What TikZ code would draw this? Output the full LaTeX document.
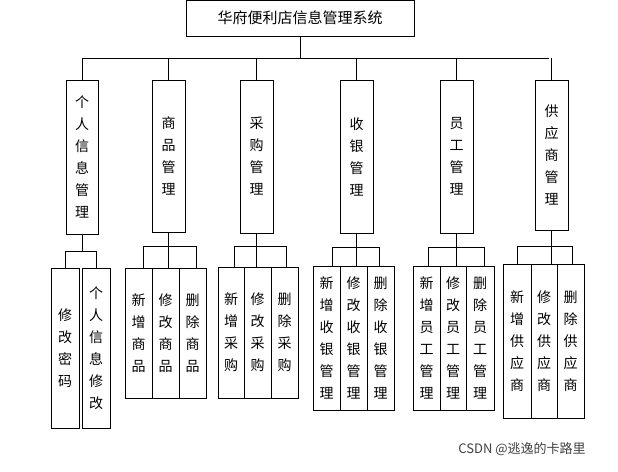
\documentclass[tikz,border=0pt]{standalone}
\usepackage{fontspec}
\newfontfamily\cjk{Noto Sans CJK SC}
\usetikzlibrary{calc}
\begin{document}
\begin{tikzpicture}[x=1pt,y=-1pt,line width=0.9pt,
  bx/.style={draw,inner sep=0pt,font=\cjk\fontsize{14}{22}\selectfont,align=center}]
\useasboundingbox (0,0) rectangle (618,471);
\newcommand\bxat[6]{\node[bx,minimum width={#4-#2},minimum height={#5-#3}] (#1) at ({(#2+#4)/2},{(#3+#5)/2}) {#6};}
\bxat{root}{186}{0}{414}{36}{\fontsize{15}{16}\selectfont 华府便利店信息管理系统}
\bxat{p1}{66}{80}{98}{234}{个\\人\\信\\息\\管\\理}
\bxat{p2}{152}{80}{185}{232}{商\\品\\管\\理}
\bxat{p3}{240}{80}{273}{233}{采\\购\\管\\理}
\bxat{p4}{340}{80}{373}{233}{收\\银\\管\\理}
\bxat{p5}{440}{80}{473}{233}{员\\工\\管\\理}
\bxat{p6}{535}{80}{568}{230}{供\\应\\商\\管\\理}
\bxat{a1}{51}{268}{79}{428}{修\\改\\密\\码}
\bxat{a2}{82}{268}{110}{428}{个\\人\\信\\息\\修\\改}
\bxat{b1}{125}{268}{152}{398}{新\\增\\商\\品}
\bxat{b2}{152}{268}{179}{398}{修\\改\\商\\品}
\bxat{b3}{179}{268}{206}{398}{删\\除\\商\\品}
\bxat{c1}{218}{267}{244}{398}{新\\增\\采\\购}
\bxat{c2}{244}{267}{271}{398}{修\\改\\采\\购}
\bxat{c3}{271}{267}{298}{398}{删\\除\\采\\购}
\bxat{d1}{313}{266}{340}{410}{新\\增\\收\\银\\管\\理}
\bxat{d2}{340}{266}{367}{410}{修\\改\\收\\银\\管\\理}
\bxat{d3}{367}{266}{394}{410}{删\\除\\收\\银\\管\\理}
\bxat{e1}{413}{266}{440}{410}{新\\增\\员\\工\\管\\理}
\bxat{e2}{440}{266}{466}{410}{修\\改\\员\\工\\管\\理}
\bxat{e3}{466}{266}{494}{410}{删\\除\\员\\工\\管\\理}
\bxat{f1}{503}{264}{531}{418}{新\\增\\供\\应\\商}
\bxat{f2}{531}{264}{557}{418}{修\\改\\供\\应\\商}
\bxat{f3}{557}{264}{584}{418}{删\\除\\供\\应\\商}
\draw (root.south) -- (300,58);
\draw (82,58) -- (549,58);
\foreach \p in {p1,p2,p3,p4,p5,p6}{\draw (\p.north |- 0,58) -- (\p.north);}
\draw (p1.south) -- (82,251);
\draw (65,251) -- (96,251);
\draw (65,251) -- (65,268); \draw (96,251) -- (96,268);
\newcommand\grp[6]{%
  \draw (#1.south) -- (#1.south |- 0,#2);
  \draw (#3,#2) -- (#4,#2);
  \draw (#3,#2) -- (#3,#6); \draw (#4,#2) -- (#4,#6);
  \draw (#1.south |- 0,#2) -- (#1.south |- #5.north);}
\grp{p2}{246}{143}{196}{b2}{268}
\grp{p3}{246}{234}{286}{c2}{267}
\grp{p4}{247}{332}{379}{d2}{266}
\grp{p5}{247}{428}{484}{e2}{266}
\grp{p6}{246}{517}{572}{f2}{264}
\node[font=\cjk\fontsize{13}{15}\selectfont,text=black!75] (wm) at (522,449) {CSDN @逃逸的卡路里};
\end{tikzpicture}
\end{document}
